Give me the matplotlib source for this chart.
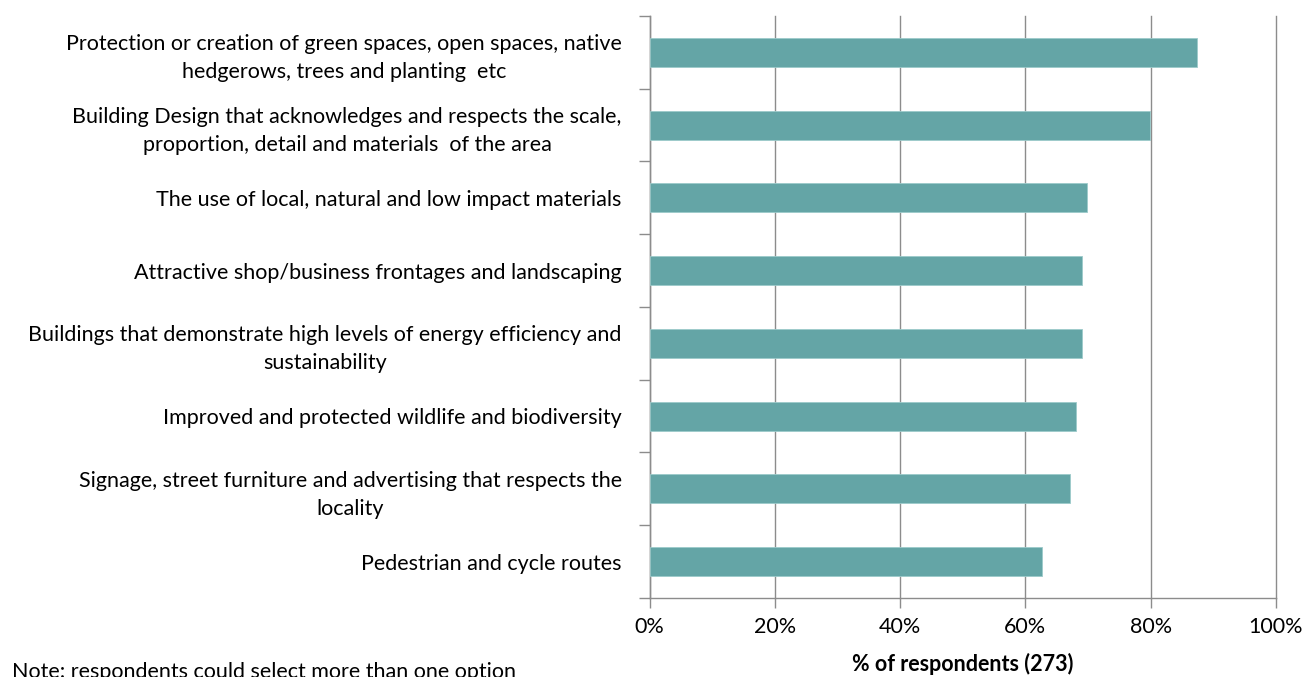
import matplotlib
matplotlib.use("Agg")
import matplotlib.pyplot as plt
from matplotlib.ticker import FixedLocator, FuncFormatter

categories = [
    "Protection or creation of green spaces, open spaces, native\nhedgerows, trees and planting  etc",
    "Building Design that acknowledges and respects the scale,\nproportion, detail and materials  of the area",
    "The use of local, natural and low impact materials",
    "Attractive shop/business frontages and landscaping",
    "Buildings that demonstrate high levels of energy efficiency and\nsustainability",
    "Improved and protected wildlife and biodiversity",
    "Signage, street furniture and advertising that respects the\nlocality",
    "Pedestrian and cycle routes",
]
values = [87.4, 79.9, 69.8, 69.0, 69.0, 68.1, 67.2, 62.6]
xticks = [0, 20, 40, 60, 80, 100]
xlabel = "% of respondents (273)"
note = "Note: respondents could select more than one option"

plt.rcParams['font.family'] = ['Lato', 'DejaVu Sans']

fig = plt.figure(figsize=(13.08, 6.77), dpi=100)
ax = fig.add_axes([0.4966, 0.1167, 0.9755 - 0.4966, 0.9764 - 0.1167])

bar_color = '#64A5A6'
grid_color = '#8C8C8C'
fs = 15.5
n = len(categories)
ypos = list(range(n))
ax.barh(ypos, values, height=0.4, color=bar_color, edgecolor='#9CCACA', linewidth=0.6, zorder=3)

ax.set_xlim(0, 100)
ax.set_ylim(n - 0.5, -0.5)

ax.set_xticks(xticks)
ax.xaxis.set_major_formatter(FuncFormatter(lambda v, p: f"{int(v)}%"))
ax.grid(axis='x', color=grid_color, linewidth=1.0, zorder=0)
for gl in ax.get_xgridlines():
    gl.set_clip_on(False)
ax.tick_params(axis='x', direction='out', length=7, width=1, color=grid_color,
               labelsize=fs, pad=7, labelcolor='black')

ax.set_yticks(ypos)
ax.set_yticklabels(categories)
for lbl in ax.get_yticklabels():
    lbl.set_multialignment('center')
    lbl.set_linespacing(1.5)
ax.yaxis.set_minor_locator(FixedLocator([i - 0.5 for i in range(n + 1)]))
ax.tick_params(axis='y', which='major', length=0, pad=20, labelsize=fs, labelcolor='black')
ax.tick_params(axis='y', which='minor', length=8, width=1, color=grid_color, direction='out')

for side in ['top', 'right']:
    ax.spines[side].set_visible(False)
for side in ['left', 'bottom']:
    ax.spines[side].set_color(grid_color)
    ax.spines[side].set_linewidth(1.0)

ax.set_xlabel(xlabel, fontsize=fs, fontweight='bold', labelpad=11)

fig.text(12 / 1308, 1 - 662 / 677, note, fontsize=fs, ha='left', va='top')

fig.savefig("out.png", dpi=100)
